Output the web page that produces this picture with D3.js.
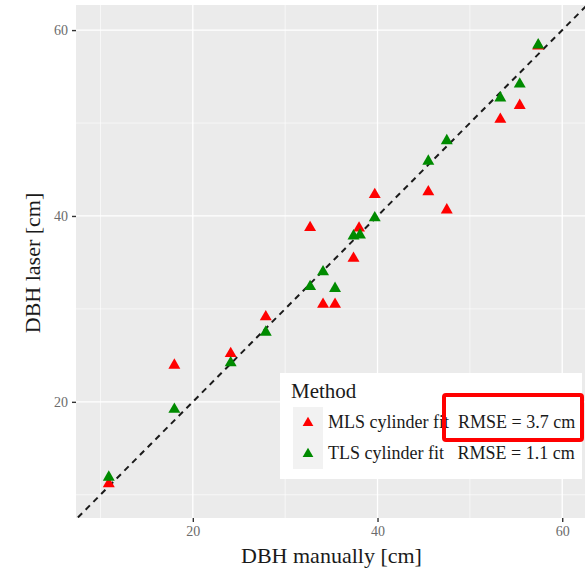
<!DOCTYPE html>
<html>
<head>
<meta charset="utf-8">
<script src="https://cdn.jsdelivr.net/npm/d3@7"></script>
<style>
  body { margin: 0; background: #fff; }
  svg text { font-family: "Liberation Serif", serif; }
</style>
</head>
<body>
<svg id="chart" width="585" height="574"></svg>
<script>
// DBH manually vs DBH laser
var mlsManual = [57.4, 55.4, 53.3, 47.5, 45.5, 39.7, 38.0, 37.4, 32.7, 35.4, 34.1, 27.9, 24.1, 18.0, 10.9]
var mlsLaser  = [58.4, 52.0, 50.5, 40.75, 42.7, 42.4, 38.8, 35.55, 38.85, 30.6, 30.6, 29.25, 25.3, 24.05, 11.3]
var tlsManual = [57.4, 55.4, 53.3, 47.5, 45.5, 39.7, 37.4, 38.1, 34.1, 32.7, 35.4, 27.9, 24.1, 18.0, 10.9]
var tlsLaser  = [58.5, 54.3, 52.8, 48.2, 46.0, 39.9, 37.95, 38.06, 34.1, 32.5, 32.3, 27.6, 24.3, 19.3, 12.0]

var methods = ["MLS cylinder fit", "TLS cylinder fit"]
var rmse = ["RMSE = 3.7 cm", "RMSE = 1.1 cm"]
var majorTicks = [20, 40, 60]
var minorTicks = [10, 30, 50]

var colors = { "MLS cylinder fit": "#ff0000", "TLS cylinder fit": "#008b00" }

var width = 585, height = 574
var panel = { left: 76, top: 5, right: 589, bottom: 518 }

var x = d3.scaleLinear().domain([7.35, 62.9]).range([panel.left, panel.right])
var y = d3.scaleLinear().domain([7.5, 62.7]).range([panel.bottom, panel.top])

var svg = d3.select("#chart")

svg.append("defs").append("clipPath").attr("id", "clip")
    .append("rect")
    .attr("x", panel.left).attr("y", panel.top)
    .attr("width", panel.right - panel.left).attr("height", panel.bottom - panel.top)

// panel background
svg.append("rect")
    .attr("x", panel.left).attr("y", panel.top)
    .attr("width", panel.right - panel.left).attr("height", panel.bottom - panel.top)
    .attr("fill", "#ebebeb")

var grid = svg.append("g").attr("clip-path", "url(#clip)")

grid.selectAll(".vminor").data(minorTicks).join("line")
    .attr("x1", d => x(d)).attr("x2", d => x(d))
    .attr("y1", panel.top).attr("y2", panel.bottom)
    .attr("stroke", "#fff").attr("stroke-width", 0.6)
grid.selectAll(".hminor").data(minorTicks).join("line")
    .attr("y1", d => y(d)).attr("y2", d => y(d))
    .attr("x1", panel.left).attr("x2", panel.right)
    .attr("stroke", "#fff").attr("stroke-width", 0.6)
grid.selectAll(".vmajor").data(majorTicks).join("line")
    .attr("x1", d => x(d)).attr("x2", d => x(d))
    .attr("y1", panel.top).attr("y2", panel.bottom)
    .attr("stroke", "#fff").attr("stroke-width", 1.3)
grid.selectAll(".hmajor").data(majorTicks).join("line")
    .attr("y1", d => y(d)).attr("y2", d => y(d))
    .attr("x1", panel.left).attr("x2", panel.right)
    .attr("stroke", "#fff").attr("stroke-width", 1.3)

// 1:1 line
grid.append("line")
    .attr("x1", x(0)).attr("y1", y(0))
    .attr("x2", x(70)).attr("y2", y(70))
    .attr("stroke", "#1a1a1a").attr("stroke-width", 2)
    .attr("stroke-dasharray", "6,5")

// points
var tri = d3.symbol().type(d3.symbolTriangle).size(62)
var pts = []
mlsManual.forEach((d, i) => pts.push({ m: d, l: mlsLaser[i], method: methods[0] }))
tlsManual.forEach((d, i) => pts.push({ m: d, l: tlsLaser[i], method: methods[1] }))

grid.selectAll(".pt").data(pts).join("path")
    .attr("class", "pt")
    .attr("d", tri)
    .attr("transform", d => "translate(" + x(d.m) + "," + (y(d.l) + 1) + ")")
    .attr("fill", d => colors[d.method])

// axes
var xAxis = svg.append("g")
    .attr("transform", "translate(0," + panel.bottom + ")")
    .call(d3.axisBottom(x).tickValues(majorTicks).tickSize(4).tickPadding(4))
var yAxis = svg.append("g")
    .attr("transform", "translate(" + panel.left + ",0)")
    .call(d3.axisLeft(y).tickValues(majorTicks).tickSize(4).tickPadding(4))

;[xAxis, yAxis].forEach(function(a) {
    a.select(".domain").remove()
    a.selectAll(".tick line").attr("stroke", "#333").attr("stroke-width", 1.4)
    a.selectAll(".tick text")
        .attr("fill", "#6b6b6b")
        .style("font-family", "Liberation Serif, serif")
        .style("font-size", "14px")
})

svg.append("text")
    .attr("x", (panel.left + width) / 2 + 1).attr("y", 563)
    .attr("text-anchor", "middle")
    .style("font-size", "22px")
    .attr("fill", "#1a1a1a")
    .text("DBH manually [cm]")

svg.append("text")
    .attr("transform", "translate(40," + 263 + ") rotate(-90)")
    .attr("text-anchor", "middle")
    .style("font-size", "22px")
    .attr("fill", "#1a1a1a")
    .text("DBH laser [cm]")

// legend
var legend = svg.append("g").attr("transform", "translate(280,373)")
legend.append("rect")
    .attr("width", 302).attr("height", 106)
    .attr("fill", "#fff")
legend.append("text")
    .attr("x", 11).attr("y", 25)
    .style("font-size", "21px")
    .attr("fill", "#1a1a1a")
    .text("Method")

var keys = legend.selectAll(".key").data(methods).join("g")
    .attr("transform", (d, i) => "translate(13," + (34 + i * 31) + ")")
keys.append("rect")
    .attr("width", 30).attr("height", 31)
    .attr("fill", "#f2f2f2")
keys.append("path")
    .attr("d", d3.symbol().type(d3.symbolTriangle).size(50))
    .attr("transform", "translate(15,16)")
    .attr("fill", d => colors[d])
keys.append("text")
    .attr("x", 35).attr("y", 21)
    .style("font-size", "18px")
    .style("white-space", "pre")
    .attr("fill", "#1a1a1a")
    .text((d, i) => d + (i === 0 ? "  " : "   ") + rmse[i])

// highlight box around the MLS RMSE
svg.append("rect")
    .attr("x", 444).attr("y", 395)
    .attr("width", 138).attr("height", 45)
    .attr("rx", 2)
    .attr("fill", "none")
    .attr("stroke", "#ff0000")
    .attr("stroke-width", 4)
</script>
</body>
</html>
